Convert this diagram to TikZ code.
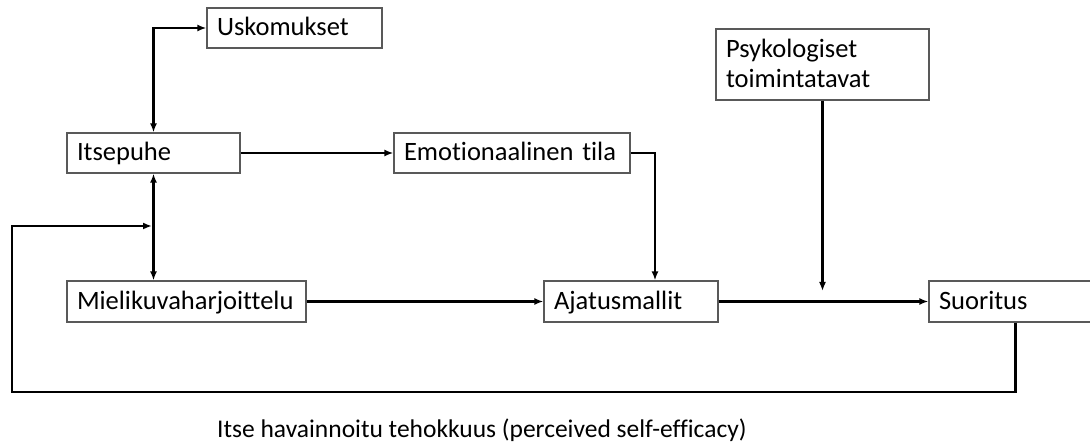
\documentclass[tikz,border=0pt]{standalone}
\usepackage{fontspec}
\setmainfont{Carlito}[Ligatures=NoCommon]
\usetikzlibrary{arrows.meta}
\begin{document}
\begin{tikzpicture}[x=1pt,y=-1pt,
  box/.style={draw=black!65, line width=1.2pt, fill=white, minimum height=40pt,
    inner xsep=10pt, inner ysep=0pt, align=left, text height=18pt, text depth=2pt,
    font=\fontsize{26.5}{30}\selectfont},
  conn/.style={line width=2.4pt, -{Latex[length=9pt,width=7pt]}},
  biconn/.style={line width=2.4pt, {Latex[length=9pt,width=7pt]}-{Latex[length=9pt,width=7pt]}}]
\useasboundingbox[fill=white] (0,0) rectangle (1090,443);

% boxes
\node[box, minimum width=175pt, text width=155pt] (usk) at (294.5,28) {Uskomukset};
\node[box, minimum width=173pt, text width=153pt] (itse) at (153.5,153) {Itsepuhe};
\node[box, minimum width=236pt, text width=216pt] (emo) at (512,153) {Emotionaalinen tila};
\node[box, minimum width=239pt, text width=219pt, minimum height=41pt] (miel) at (186.5,301.5) {Mielikuvaharjoittelu};
\node[box, minimum width=174pt, text width=154pt, minimum height=41pt] (ajat) at (631,301.5) {Ajatusmallit};
\node[box, minimum width=173pt, text width=153pt, minimum height=41pt] (suor) at (1015.5,301.5) {Suoritus};
\node[box, minimum width=213pt, text width=193pt, minimum height=71pt, text height=18pt, text depth=32pt] (psy) at (822.5,64.5) {Psykologiset\\toimintatavat};

% junction points
\coordinate (fb) at (152,226);
\coordinate (psyend) at (822.5,291);

% connectors
\draw[biconn] (itse.north) |- (usk.west);
\draw[biconn] (itse.south) -- (itse.south |- miel.north);
\draw[conn] (itse.east) -- (emo.west);
\draw[conn] (emo.east) -| ([xshift=24pt]ajat.north);
\draw[conn] (miel.east) -- (ajat.west);
\draw[conn] (ajat.east) -- (suor.west);
\draw[conn] (psy.south) -- (psyend);
\draw[conn] (suor.south) -- (suor.south |- 0,392) -| (12,226) -- (fb);

% caption
\node[anchor=base west, inner sep=0pt, font=\fontsize{25.5}{30}\selectfont] (cap) at (217,438)
  {Itse havainnoitu tehokkuus (perceived self-efficacy)};
\end{tikzpicture}
\end{document}
